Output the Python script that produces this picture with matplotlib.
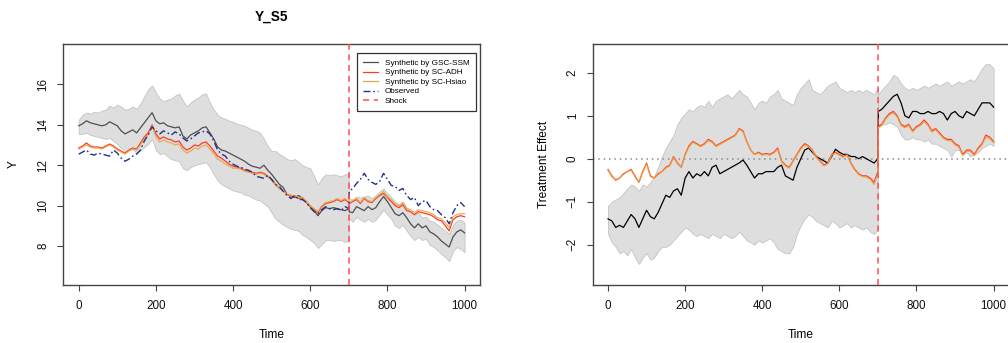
import matplotlib

matplotlib.use("Agg")

import matplotlib.pyplot as plt
from matplotlib.lines import Line2D

plt.rcParams["font.family"] = ["Liberation Sans", "DejaVu Sans"]

# ---- data (every 10 time steps) ----
TIME = list(range(0, 701, 10)) + [701] + list(range(710, 1001, 10))
BAND_PRE_T = list(range(0, 701, 10))
BAND_POST_T = list(range(700, 1001, 10))
SHOCK_T = 700

# left panel: Y levels
y_gsc = [
    13.95, 14.05, 14.2, 14.1, 14.05, 14.0, 13.95, 14.0, 14.15, 14.05,
    13.95, 13.7, 13.55, 13.65, 13.75, 13.6, 13.85, 14.1, 14.35, 14.6,
    14.2, 14.05, 14.1, 13.95, 13.9, 13.85, 13.9, 13.45, 13.3, 13.5,
    13.6, 13.7, 13.85, 13.9, 13.6, 13.3, 12.9, 12.75, 12.7, 12.6,
    12.5, 12.4, 12.3, 12.2, 12.05, 11.95, 11.9, 11.85, 12.0, 11.75,
    11.55, 11.3, 11.05, 10.9, 10.55, 10.5, 10.4, 10.5, 10.35, 10.2,
    9.95, 9.75, 9.5, 9.75, 9.9, 9.85, 9.9, 9.85, 9.8, 9.75,
    9.85, 9.7,
    9.65, 9.95, 9.85, 9.75, 9.95, 9.8, 9.9, 10.2, 10.45,
    10.2, 9.9, 9.6, 9.5, 9.65, 9.4, 9.1, 8.9, 9.1, 8.9,
    9.0, 8.7, 8.6, 8.45, 8.25, 8.1, 7.95, 8.45, 8.7, 8.8,
    8.65,
]
y_adh = [
    12.85, 12.95, 13.1, 12.95, 12.9, 12.9, 12.85, 12.95, 13.05, 12.95,
    12.8, 12.7, 12.6, 12.75, 12.85, 12.8, 13.1, 13.4, 13.6, 14.0,
    13.55, 13.3, 13.4, 13.3, 13.25, 13.15, 13.2, 12.9, 12.75, 12.85,
    13.0, 12.95, 13.1, 13.15, 12.95, 12.7, 12.45, 12.35, 12.2, 12.05,
    11.95, 11.9, 11.85, 11.75, 11.7, 11.65, 11.6, 11.65, 11.6, 11.45,
    11.3, 11.05, 10.85, 10.75, 10.55, 10.45, 10.5, 10.35, 10.4, 10.15,
    9.95, 9.8, 9.65, 9.95, 10.1, 10.15, 10.2, 10.3, 10.2, 10.3,
    10.15, 10.1,
    10.2, 10.3, 10.1, 10.35, 10.2, 10.15, 10.35, 10.5, 10.6,
    10.4, 10.2, 10.0, 9.9, 10.05, 9.75, 9.7, 9.55, 9.7, 9.65,
    9.6, 9.55, 9.45, 9.3, 9.25, 9.0, 8.75, 9.3, 9.45, 9.5,
    9.45,
]
y_hsiao = [
    12.8, 12.9, 13.0, 12.9, 12.85, 12.85, 12.8, 12.9, 13.0, 12.9,
    12.75, 12.65, 12.55, 12.7, 12.8, 12.75, 13.0, 13.3, 13.5, 13.95,
    13.4, 13.15, 13.25, 13.15, 13.1, 13.0, 13.05, 12.75, 12.6, 12.7,
    12.85, 12.8, 12.95, 13.0, 12.8, 12.55, 12.3, 12.2, 12.05, 11.95,
    11.85, 11.85, 11.8, 11.7, 11.65, 11.6, 11.55, 11.6, 11.55, 11.4,
    11.25, 11.0, 10.85, 10.75, 10.55, 10.5, 10.5, 10.4, 10.4, 10.2,
    10.0, 9.85, 9.7, 10.0, 10.15, 10.2, 10.25, 10.35, 10.25, 10.35,
    10.2, 10.15,
    10.25, 10.35, 10.15, 10.4, 10.25, 10.2, 10.4, 10.55, 10.7,
    10.45, 10.3, 10.1, 10.0, 10.15, 9.85, 9.8, 9.65, 9.8, 9.75,
    9.7, 9.65, 9.55, 9.4, 9.35, 9.15, 8.9, 9.45, 9.55, 9.6,
    9.6,
]
y_obs = [
    12.55, 12.65, 12.75, 12.55, 12.5, 12.6, 12.55, 12.5, 12.45, 12.75,
    12.6, 12.35, 12.2, 12.3, 12.45, 12.55, 12.75, 13.2, 13.5, 13.9,
    13.7, 13.55, 13.7, 13.6, 13.5, 13.65, 13.55, 13.35, 13.2, 13.3,
    13.45, 13.6, 13.65, 13.7, 13.55, 13.2, 12.75, 12.55, 12.45, 12.2,
    12.05, 11.95, 11.9, 11.8, 11.75, 11.65, 11.45, 11.4, 11.35, 11.5,
    11.3, 11.05, 10.95, 10.7, 10.5, 10.35, 10.5, 10.3, 10.3, 10.15,
    9.9, 9.7, 9.6, 9.8, 9.95, 9.85, 9.8, 9.85, 9.75, 9.95,
    9.85, 10.7,
    10.85, 11.1, 11.3, 11.6, 11.3, 11.15, 11.05, 11.2, 11.6,
    11.3, 11.0, 10.95, 10.75, 10.85, 10.5, 10.3, 10.4, 10.0, 10.2,
    10.25, 9.95, 9.8, 9.75, 9.55, 9.4, 9.1, 9.65, 10.0, 10.15,
    9.95,
]
y_band_pre_hi = [
    14.25, 14.5, 14.6, 14.55, 14.65, 14.6, 14.7, 14.75, 14.95, 14.85,
    15.0, 14.9, 14.75, 14.8, 14.9, 14.8, 15.05, 15.4, 15.75, 15.95,
    15.6, 15.3, 15.15, 15.25, 15.3, 15.45, 15.55, 15.2, 14.9, 15.1,
    15.25, 15.35, 15.5, 15.55, 15.1, 14.75, 14.5, 14.35, 14.3, 14.2,
    14.15, 14.05, 14.0, 13.95, 13.85, 13.75, 13.7, 13.6, 13.3, 12.95,
    12.7, 12.7, 12.55, 12.45, 12.3, 12.25, 12.3, 12.15, 12.0, 11.9,
    11.85, 11.45, 11.05, 11.35, 11.55, 11.5, 11.55, 11.5, 11.45, 11.55,
    11.6,
]
y_band_pre_lo = [
    13.55, 13.55, 13.6, 13.5, 13.45, 13.4, 13.35, 13.3, 13.35, 13.2,
    13.05, 12.85, 12.7, 12.75, 12.8, 12.6, 12.75, 12.9, 13.05, 13.3,
    12.75, 12.55, 12.6, 12.45, 12.3, 12.25, 12.2, 11.85, 11.75, 11.9,
    12.0, 12.05, 12.1, 12.15, 11.9, 11.55, 11.25, 11.05, 10.95, 10.85,
    10.75, 10.7, 10.65, 10.55, 10.5, 10.4, 10.3, 10.25, 10.1, 9.95,
    9.65, 9.35, 9.2, 9.05, 8.95, 8.85, 8.8, 8.75, 8.55, 8.45,
    8.3, 8.15, 7.9, 8.1, 8.3, 8.3, 8.25, 8.3, 8.3, 8.2,
    8.3,
]
y_band_post_hi = [
    10.35, 10.3, 10.45, 10.4, 10.45, 10.5, 10.35, 10.5, 10.7, 10.85,
    10.6, 10.4, 10.2, 10.05, 10.2, 9.9, 9.7, 9.55, 9.65, 9.4,
    9.45, 9.25, 9.2, 9.05, 8.9, 8.75, 8.6, 9.05, 9.25, 9.3,
    9.15,
]
y_band_post_lo = [
    9.4, 9.2, 9.45, 9.3, 9.2, 9.35, 9.2, 9.3, 9.55, 9.8,
    9.55, 9.35, 9.0, 8.9, 9.05, 8.75, 8.5, 8.3, 8.45, 8.3,
    8.35, 8.05, 7.95, 7.8, 7.6, 7.45, 7.25, 7.75, 7.95, 7.85,
    7.7,
]

# right panel: treatment effects
te_gsc = [
    -1.4, -1.45, -1.6, -1.55, -1.6, -1.45, -1.3, -1.4, -1.6, -1.4,
    -1.2, -1.35, -1.4, -1.25, -1.05, -0.85, -0.9, -0.75, -0.7, -0.85,
    -0.45, -0.3, -0.45, -0.35, -0.4, -0.3, -0.4, -0.2, -0.15, -0.35,
    -0.3, -0.25, -0.2, -0.15, -0.1, -0.03, -0.15, -0.3, -0.45, -0.35,
    -0.35, -0.3, -0.3, -0.3, -0.2, -0.15, -0.4, -0.45, -0.5, -0.2,
    0.0, 0.2, 0.25, 0.15, 0.05, 0.0, -0.05, -0.1, 0.05, 0.22,
    0.15, 0.1, 0.1, 0.05, 0.05, 0.0, 0.05, 0.0, -0.05, -0.1,
    0.0, 1.1,
    1.15, 1.25, 1.35, 1.45, 1.5, 1.3, 1.0, 0.95, 1.1,
    1.1, 1.05, 1.05, 1.1, 1.05, 1.05, 1.1, 1.05, 0.9, 1.05,
    1.1, 1.0, 0.95, 1.1, 1.05, 1.0, 1.15, 1.3, 1.3, 1.3,
    1.2,
]
te_adh = [
    -0.25, -0.4, -0.5, -0.45, -0.35, -0.3, -0.25, -0.4, -0.55, -0.3,
    -0.1, -0.4, -0.45, -0.35, -0.3, -0.2, -0.15, 0.05, -0.1, -0.2,
    0.1, 0.3, 0.4, 0.35, 0.3, 0.35, 0.45, 0.4, 0.3, 0.35,
    0.4, 0.45, 0.5, 0.55, 0.7, 0.65, 0.4, 0.2, 0.1, 0.15,
    0.1, 0.12, 0.1, 0.15, 0.25, -0.05, -0.15, -0.2, -0.05, 0.1,
    0.25, 0.35, 0.3, 0.2, 0.05, -0.05, -0.15, -0.1, 0.1, 0.15,
    0.1, 0.05, 0.1, -0.1, -0.25, -0.35, -0.4, -0.4, -0.45, -0.55,
    -0.3, 0.75,
    0.8, 0.95, 1.05, 1.1, 1.0, 0.8, 0.75, 0.8, 0.65,
    0.75, 0.8, 0.9, 0.8, 0.65, 0.7, 0.6, 0.5, 0.45, 0.45,
    0.35, 0.3, 0.1, 0.2, 0.2, 0.1, 0.25, 0.35, 0.55, 0.5,
    0.4,
]
te_hsiao = [
    -0.27, -0.42, -0.48, -0.45, -0.37, -0.3, -0.27, -0.42, -0.55, -0.32,
    -0.12, -0.42, -0.45, -0.37, -0.3, -0.22, -0.17, 0.03, -0.12, -0.2,
    0.08, 0.27, 0.38, 0.33, 0.28, 0.33, 0.42, 0.38, 0.28, 0.33,
    0.38, 0.43, 0.48, 0.53, 0.68, 0.63, 0.4, 0.2, 0.1, 0.13,
    0.08, 0.1, 0.08, 0.13, 0.22, -0.07, -0.17, -0.22, -0.07, 0.08,
    0.22, 0.32, 0.28, 0.18, 0.03, -0.07, -0.17, -0.12, 0.08, 0.13,
    0.08, 0.03, 0.08, -0.12, -0.27, -0.37, -0.42, -0.43, -0.48, -0.6,
    -0.35, 0.72,
    0.77, 0.92, 1.02, 1.07, 0.97, 0.77, 0.72, 0.77, 0.62,
    0.72, 0.77, 0.86, 0.77, 0.62, 0.67, 0.57, 0.47, 0.42, 0.42,
    0.32, 0.27, 0.07, 0.17, 0.17, 0.07, 0.22, 0.32, 0.5, 0.47,
    0.37,
]
te_band_pre_hi = [
    -1.1, -1.0, -0.95, -0.9, -0.8, -0.7, -0.6, -0.65, -0.75, -0.6,
    -0.65, -0.55, -0.4, -0.2, 0.05, 0.25, 0.4, 0.55, 0.8, 0.95,
    1.05, 1.15, 1.1, 1.2, 1.25, 1.2, 1.35, 1.2, 1.35, 1.4,
    1.45, 1.5, 1.4, 1.5, 1.6, 1.5, 1.45, 1.3, 1.15, 1.3,
    1.35, 1.3, 1.45, 1.5, 1.6, 1.4, 1.35, 1.3, 1.25, 1.5,
    1.65, 1.75, 1.85, 1.6, 1.55, 1.5, 1.6, 1.7, 1.75, 1.8,
    1.65, 1.6, 1.55, 1.6, 1.55, 1.6, 1.55, 1.6, 1.55, 1.5,
    1.65,
]
te_band_pre_lo = [
    -1.75, -1.95, -2.05, -2.2, -2.15, -2.25, -2.1, -2.3, -2.45, -2.3,
    -2.2, -2.35, -2.3, -2.15, -2.05, -2.05, -2.0, -1.9, -1.8, -1.7,
    -1.6, -1.65, -1.75, -1.8, -1.75, -1.8, -1.85, -1.75, -1.8, -1.85,
    -1.75, -1.8, -1.85, -1.8, -1.7, -1.8, -1.9, -1.95, -2.0, -1.9,
    -1.95, -1.9, -1.85, -1.95, -2.1, -2.15, -2.2, -2.2, -2.05, -1.75,
    -1.55, -1.4, -1.3, -1.35, -1.45, -1.5, -1.55, -1.6, -1.45, -1.5,
    -1.6, -1.55, -1.5, -1.6, -1.55, -1.6, -1.65, -1.6, -1.7, -1.75,
    -1.65,
]
te_band_post_hi = [
    1.5, 1.6, 1.7, 1.8, 1.95, 1.9, 1.75, 1.65, 1.6, 1.65,
    1.6, 1.65, 1.7, 1.65, 1.7, 1.75, 1.7, 1.75, 1.8, 1.7,
    1.75, 1.8, 1.75, 1.8, 1.85, 1.8, 1.95, 2.1, 2.2, 2.2,
    2.1,
]
te_band_post_lo = [
    0.75, 0.8, 0.8, 0.85, 0.8, 0.75, 0.55, 0.45, 0.45, 0.5,
    0.45, 0.45, 0.4, 0.45, 0.35, 0.35, 0.3, 0.25, 0.2, 0.05,
    0.2, 0.2, 0.1, 0.15, 0.05, 0.1, 0.15, 0.25, 0.3, 0.35,
    0.3,
]

LEGEND_LABELS = [
    "Synthetic by GSC-SSM",
    "Synthetic by SC-ADH",
    "Synthetic by SC-Hsiao",
    "Observed",
    "Shock",
]

# ---- styles ----
BAND_FACE = "#DEDEDE"
BAND_EDGE = "#C4C4C4"
C_GSC_LEFT = "#4F4F4F"
C_GSC_RIGHT = "#000000"
C_ADH = "#FF3B22"
C_HSIAO = "#E8A64A"
C_OBS = "#1F3388"
C_SHOCK = "#FF4F4F"
FRAME = "#444444"
LS_OBS = (0, (5, 2, 1.2, 2))
LS_SHOCK = (0, (4, 3))
TICK_FS = 8.4
LABEL_FS = 8.6


def style_axes(ax, xlim, ylim, yticks):
    ax.set_xlim(*xlim)
    ax.set_ylim(*ylim)
    ax.set_xticks([0, 200, 400, 600, 800, 1000])
    ax.set_yticks(yticks)
    for sp in ax.spines.values():
        sp.set_color(FRAME)
        sp.set_linewidth(1.0)
    ax.tick_params(direction="out", length=4.5, width=0.8, color=FRAME,
                   labelsize=TICK_FS, labelcolor="#111111")
    ax.tick_params(axis="x", pad=6.5)
    ax.tick_params(axis="y", pad=5.5)
    for lbl in ax.get_yticklabels():
        lbl.set_rotation(90)
        lbl.set_va("center")
    ax.set_xlabel("Time", fontsize=LABEL_FS)
    ax.xaxis.set_label_coords(0.5, -0.2075)
    ax.xaxis.label.set_va("center")


def band(ax, t, lo, hi):
    ax.fill_between(t, lo, hi, facecolor=BAND_FACE, edgecolor=BAND_EDGE,
                    linewidth=0.6, zorder=1)


fig = plt.figure(figsize=(10.08, 3.43), dpi=100)
ax1 = fig.add_axes([0.0628, 0.1691, 0.4134, 0.7026])
ax2 = fig.add_axes([0.5879, 0.1691, 0.4131, 0.7026])

# left: levels
band(ax1, BAND_PRE_T, y_band_pre_lo, y_band_pre_hi)
band(ax1, BAND_POST_T, y_band_post_lo, y_band_post_hi)
ax1.plot(TIME, y_gsc, color=C_GSC_LEFT, lw=0.9, zorder=3)
ax1.plot(TIME, y_adh, color=C_ADH, lw=0.9, zorder=3)
ax1.plot(TIME, y_hsiao, color=C_HSIAO, lw=0.9, alpha=0.9, zorder=4)
ax1.plot(TIME, y_obs, color=C_OBS, lw=1.0, ls=LS_OBS, zorder=5)
ax1.axvline(SHOCK_T, color=C_SHOCK, lw=1.1, ls=LS_SHOCK, zorder=6)
style_axes(ax1, (-40, 1040), (6.07, 18.0), [8, 10, 12, 14, 16])
ax1.set_ylabel("Y", fontsize=LABEL_FS)
ax1.yaxis.set_label_coords(-0.118, 0.5)
ax1.yaxis.label.set_va("center")

handles = [
    Line2D([], [], color=C_GSC_LEFT, lw=0.9),
    Line2D([], [], color=C_ADH, lw=0.9),
    Line2D([], [], color=C_HSIAO, lw=0.9),
    Line2D([], [], color=C_OBS, lw=1.0, ls=LS_OBS),
    Line2D([], [], color=C_SHOCK, lw=1.1, ls=LS_SHOCK),
]
leg = ax1.legend(handles, LEGEND_LABELS, loc="upper right",
                 bbox_to_anchor=(0.9897, 0.9627), borderaxespad=0,
                 fontsize=5.9, handlelength=1.85, handletextpad=0.85,
                 labelspacing=0.22, borderpad=0.75, fancybox=False,
                 framealpha=1, edgecolor="#333333")
leg.get_frame().set_linewidth(0.9)

# right: treatment effects
band(ax2, BAND_PRE_T, te_band_pre_lo, te_band_pre_hi)
band(ax2, BAND_POST_T, te_band_post_lo, te_band_post_hi)
ax2.axhline(0, color="#8C8C8C", lw=1.1, ls=(0, (1, 2.5)), zorder=2)
ax2.plot(TIME, te_gsc, color=C_GSC_RIGHT, lw=0.9, zorder=3)
ax2.plot(TIME, te_adh, color=C_ADH, lw=0.9, zorder=3)
ax2.plot(TIME, te_hsiao, color=C_HSIAO, lw=0.9, alpha=0.9, zorder=4)
ax2.axvline(SHOCK_T, color=C_SHOCK, lw=1.1, ls=LS_SHOCK, zorder=6)
style_axes(ax2, (-40, 1040), (-2.94, 2.67), [-2, -1, 0, 1, 2])
ax2.set_ylabel("Treatment Effect", fontsize=LABEL_FS)
ax2.yaxis.set_label_coords(-0.1167, 0.5)
ax2.yaxis.label.set_va("center")

fig.text(0.2698, 0.950, "Y_S5", ha="center", va="center",
         fontsize=9.8, fontweight="bold")

fig.savefig("out.png", dpi=100)
plt.close(fig)
